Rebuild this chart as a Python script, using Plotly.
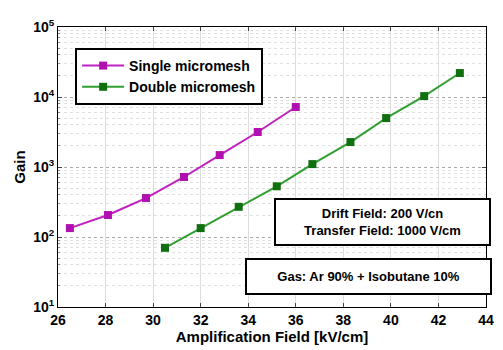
import plotly.graph_objects as go

single_x = [26.5, 28.1, 29.7, 31.3, 32.8, 34.4, 36.0]
single_y = [134, 206, 360, 720, 1480, 3160, 7200]
double_x = [30.5, 32.0, 33.6, 35.2, 36.7, 38.3, 39.8, 41.4, 42.9]
double_y = [70, 134, 270, 530, 1100, 2270, 5000, 10300, 22000]

x_ticks = [26, 28, 30, 32, 34, 36, 38, 40, 42, 44]
y_tickvals = [10, 100, 1000, 10000, 100000]
y_ticktext = ["10<sup>1</sup>", "10<sup>2</sup>", "10<sup>3</sup>", "10<sup>4</sup>", "10<sup>5</sup>"]
y_minor = [m * 10 ** e for e in range(1, 5) for m in range(2, 10)]

FONT = "Liberation Sans"

fig = go.Figure()
fig.add_trace(go.Scatter(x=single_x, y=single_y, mode="lines+markers", name="<b>Single micromesh</b>",
                         line=dict(color="#c020c0", width=2),
                         marker=dict(symbol="square", size=8, color="#b010b0")))
fig.add_trace(go.Scatter(x=double_x, y=double_y, mode="lines+markers", name="<b>Double micromesh</b>",
                         line=dict(color="#30a030", width=2),
                         marker=dict(symbol="square", size=8, color="#107010")))
# invisible trace carrying the minor grid axis
fig.add_trace(go.Scatter(x=[26], y=[10], yaxis="y2", mode="markers",
                         marker=dict(opacity=0), showlegend=False, hoverinfo="skip"))

fig.update_layout(
    width=503, height=350,
    margin=dict(l=58, r=9, t=27, b=43),
    paper_bgcolor="white", plot_bgcolor="white",
    font=dict(family=FONT, size=13, color="black"),
    showlegend=True,
    legend=dict(x=0.04, y=0.925, xanchor="left", yanchor="top",
                bordercolor="black", borderwidth=2, bgcolor="white",
                font=dict(family=FONT, size=14), tracegroupgap=0,
                itemwidth=42),
    xaxis=dict(range=[26, 44], tickvals=x_ticks, ticks="inside", ticklen=4,
               showline=True, linecolor="black", linewidth=1, mirror="ticks",
               showgrid=True, gridcolor="#dddddd", gridwidth=1,
               tickfont=dict(family=FONT, size=14, weight="bold"),
               title=dict(text="<b>Amplification Field [kV/cm]</b>", standoff=1,
                          font=dict(family=FONT, size=15)),
               zeroline=False),
    yaxis=dict(type="log", range=[1, 5], tickvals=y_tickvals, ticktext=y_ticktext,
               ticks="inside", ticklen=4,
               showline=True, linecolor="black", linewidth=1, mirror="ticks",
               showgrid=True, gridcolor="#aaaaaa", griddash="dot", gridwidth=1,
               tickfont=dict(family=FONT, size=14, weight="bold"),
               title=dict(text="<b>Gain</b>", standoff=3, font=dict(family=FONT, size=15)),
               zeroline=False),
    yaxis2=dict(type="log", range=[1, 5], overlaying="y", side="left",
                tickvals=y_minor, showticklabels=False, ticks="inside", ticklen=2,
                tickcolor="#888888",
                showgrid=True, gridcolor="#e0e0e0", griddash="dot", gridwidth=1,
                zeroline=False, showline=False, layer="below traces"),
)

fig.add_annotation(xref="paper", yref="paper", x=(278 - 58) / 436, y=(307 - 198) / 280,
                   xanchor="left", yanchor="top", showarrow=False,
                   text="<b>Drift Field: 200 V/cn<br>Transfer Field: 1000 V/cm</b>",
                   font=dict(family=FONT, size=13), align="center",
                   bordercolor="black", borderwidth=2, bgcolor="white", borderpad=6,
                   width=201)
fig.add_annotation(xref="paper", yref="paper", x=(248 - 58) / 436, y=(307 - 258) / 280,
                   xanchor="left", yanchor="top", showarrow=False,
                   text="<b>Gas: Ar 90% + Isobutane 10%</b>",
                   font=dict(family=FONT, size=13), align="center",
                   bordercolor="black", borderwidth=2, bgcolor="white", borderpad=9,
                   width=225)

fig.write_html("out.html")
